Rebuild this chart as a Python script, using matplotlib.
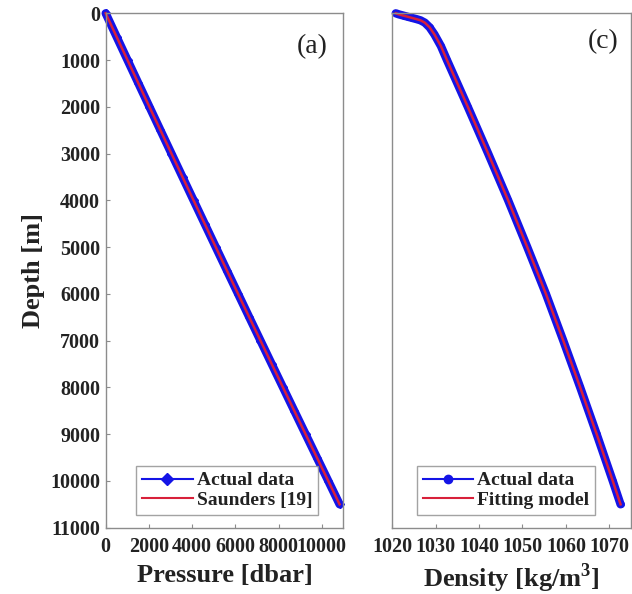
import matplotlib
matplotlib.use("Agg")
import matplotlib.pyplot as plt

plt.rcParams["mathtext.fontset"] = "custom"
plt.rcParams["mathtext.rm"] = "Liberation Serif:bold"
plt.rcParams["mathtext.bf"] = "Liberation Serif:bold"

# Depth profile (m) shared by both panels
depth = [0, 500, 1000, 1500, 2000, 2500, 3000, 3500, 4000, 4500, 5000,
         5500, 6000, 6500, 7000, 7500, 8000, 8500, 9000, 9500, 10000, 10500]

# Panel (a): pressure (dbar) measured and from Saunders' relation
pressure_actual = [0, 504, 1010, 1516, 2024, 2533, 3043, 3554, 4066, 4579, 5093,
                   5608, 6125, 6642, 7161, 7681, 8202, 8724, 9247, 9771, 10296, 10820]
pressure_saunders = [0, 504, 1010, 1516, 2024, 2533, 3043, 3554, 4066, 4579, 5093,
                     5608, 6125, 6642, 7161, 7681, 8202, 8724, 9247, 9771, 10296, 10820]

# Panel (c): in-situ density (kg/m^3)
density_depth = [0, 25, 50, 75, 100, 125, 150, 200, 300, 450, 700, 1000, 1500,
                 2000, 3000, 4000, 5000, 6000, 7000, 8000, 9000, 10000, 10500]
density_actual = [1020.8, 1021.6, 1022.6, 1023.6, 1024.6, 1025.6, 1026.5, 1027.5,
                  1028.6, 1029.7, 1031.2, 1032.6, 1035.0, 1037.4, 1042.1, 1046.7,
                  1051.1, 1055.4, 1059.4, 1063.3, 1067.1, 1070.8, 1072.6]
density_fit = [1020.8, 1021.6, 1022.6, 1023.6, 1024.6, 1025.6, 1026.5, 1027.5,
               1028.6, 1029.7, 1031.2, 1032.6, 1035.0, 1037.4, 1042.1, 1046.7,
               1051.1, 1055.4, 1059.4, 1063.3, 1067.1, 1070.8, 1072.6]

pressure_ticks = [0, 2000, 4000, 6000, 8000, 10000]
density_ticks = [1020, 1030, 1040, 1050, 1060, 1070]
depth_ticks = list(range(0, 11001, 1000))

SERIF = ["Liberation Serif", "DejaVu Serif"]
TEXT = "#222222"
SPINE = "#8c8c8c"
BLUE = "#1414e6"
RED = "#d8203a"

fig = plt.figure(figsize=(6.32, 5.94), dpi=100)
ax1 = fig.add_axes([0.1672, 0.1116, 0.3763, 0.8660])
ax2 = fig.add_axes([0.6207, 0.1116, 0.3777, 0.8660])


def style(ax):
    for s in ax.spines.values():
        s.set_color(SPINE)
        s.set_linewidth(1.0)
    ax.tick_params(direction="in", length=3, width=0.8, color=SPINE,
                   top=False, right=False, labelsize=14.5, labelcolor=TEXT)
    ax.tick_params(axis="x", pad=7)
    ax.tick_params(axis="y", pad=4)
    for lab in ax.get_xticklabels() + ax.get_yticklabels():
        lab.set_fontfamily(SERIF)
        lab.set_fontweight("bold")


# (a) pressure vs depth
ax1.plot(pressure_actual, depth, color=BLUE, lw=6, marker="D", ms=4,
         mfc=BLUE, mec=BLUE, solid_capstyle="round", clip_on=False,
         label="Actual data")
ax1.plot(pressure_saunders, depth, color=RED, lw=1.8, clip_on=False,
         label="Saunders [19]")
ax1.set_xlim(0, 11000)
ax1.set_ylim(11000, 0)
ax1.set_xticks(pressure_ticks)
ax1.set_yticks(depth_ticks)
style(ax1)
ax1.set_xlabel("Pressure [dbar]", fontfamily=SERIF, fontweight="bold",
               fontsize=19, color=TEXT, labelpad=5)
ax1.set_ylabel("Depth [m]", fontfamily=SERIF, fontweight="bold",
               fontsize=19, color=TEXT)
ax1.yaxis.set_label_coords(-0.255, 0.5)
ax1.text(0.868, 0.936, "(a)", transform=ax1.transAxes, ha="center", va="center",
         fontfamily=SERIF, fontsize=20, color=TEXT)

# (c) density vs depth
ax2.plot(density_actual, density_depth, color=BLUE, lw=6, marker="o", ms=4,
         mfc=BLUE, mec=BLUE, solid_capstyle="round", clip_on=False,
         label="Actual data")
ax2.plot(density_fit, density_depth, color=RED, lw=1.8, clip_on=False,
         label="Fitting model")
ax2.set_xlim(1020, 1075)
ax2.set_ylim(11000, 0)
ax2.set_xticks(density_ticks)
ax2.set_yticks([])
style(ax2)
ax2.set_xlabel("Density [kg/m$^{\\mathbf{3}}$]", fontfamily=SERIF, fontweight="bold",
               fontsize=19, color=TEXT, labelpad=3)
ax2.text(0.883, 0.945, "(c)", transform=ax2.transAxes, ha="center", va="center",
         fontfamily=SERIF, fontsize=20, color=TEXT)


def legend(ax, x):
    h = [plt.Line2D([], [], color=BLUE, lw=1.5,
                    marker=ax.get_lines()[0].get_marker(), ms=6, mfc=BLUE, mec=BLUE),
         plt.Line2D([], [], color=RED, lw=1.5)]
    lg = ax.legend(h, [l.get_label() for l in ax.get_lines()],
                   loc="lower right", bbox_to_anchor=(x, 0.025),
                   prop={"family": SERIF, "weight": "bold", "size": 14},
                   frameon=True, fancybox=False, edgecolor=SPINE,
                   handlelength=2.6, handletextpad=0.2, borderpad=0.3,
                   labelspacing=0.1, borderaxespad=0.0)
    lg.get_frame().set_linewidth(1.0)
    for t in lg.get_texts():
        t.set_color(TEXT)


legend(ax1, 0.893)
legend(ax2, 0.849)

fig.savefig("out.png", dpi=100)
